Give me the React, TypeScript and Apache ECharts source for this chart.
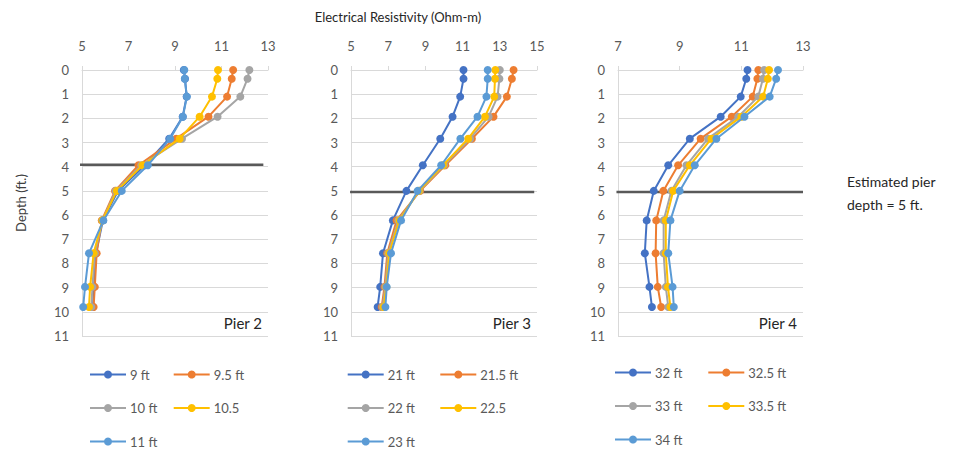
import React, { useEffect, useRef } from "react";
import * as echarts from "echarts";

const depths = [0, 0.36, 1.1, 1.93, 2.84, 3.94, 5.0, 6.22, 7.58, 8.97, 9.8];

const pier2Names = ["9 ft", "9.5 ft", "10 ft", "10.5", "11 ft"];
const pier2_9 = [9.38, 9.43, 9.5, 9.33, 8.75, 7.7, 6.55, 5.9, 5.6, 5.52, 5.47];
const pier2_95 = [11.5, 11.44, 11.24, 10.44, 9.05, 7.43, 6.42, 5.85, 5.63, 5.55, 5.5];
const pier2_10 = [12.2, 12.12, 11.81, 10.83, 9.3, 7.55, 6.45, 5.88, 5.55, 5.45, 5.4];
const pier2_105 = [10.85, 10.82, 10.59, 10.06, 9.2, 7.6, 6.5, 5.88, 5.5, 5.35, 5.3];
const pier2_11 = [9.4, 9.42, 9.51, 9.34, 8.79, 7.83, 6.71, 5.92, 5.3, 5.13, 5.05];

const pier3Names = ["21 ft", "21.5 ft", "22 ft", "22.5", "23 ft"];
const pier3_21 = [11.05, 11.05, 10.87, 10.46, 9.8, 8.86, 7.98, 7.25, 6.72, 6.57, 6.43];
const pier3_215 = [13.74, 13.65, 13.38, 12.66, 11.5, 10.07, 8.72, 7.45, 6.95, 6.8, 6.65];
const pier3_22 = [13.0, 12.98, 12.88, 12.4, 11.4, 10.0, 8.68, 7.55, 7.0, 6.85, 6.7];
const pier3_225 = [12.76, 12.74, 12.7, 12.2, 11.3, 9.95, 8.65, 7.6, 7.05, 6.9, 6.75];
const pier3_23 = [12.35, 12.35, 12.28, 11.8, 10.88, 9.85, 8.58, 7.69, 7.15, 6.92, 6.85];

const pier4Names = ["32 ft", "32.5 ft", "33 ft", "33.5 ft", "34 ft"];
const pier4_32 = [11.2, 11.16, 10.98, 10.33, 9.33, 8.63, 8.16, 7.93, 7.87, 8.02, 8.1];
const pier4_325 = [11.55, 11.52, 11.37, 10.69, 9.68, 8.95, 8.47, 8.24, 8.22, 8.29, 8.4];
const pier4_33 = [11.74, 11.7, 11.55, 10.9, 9.92, 9.22, 8.73, 8.48, 8.48, 8.55, 8.63];
const pier4_335 = [11.9, 11.86, 11.71, 11.0, 10.03, 9.33, 8.79, 8.55, 8.55, 8.62, 8.7];
const pier4_34 = [12.19, 12.13, 11.92, 11.1, 10.19, 9.49, 9.0, 8.7, 8.63, 8.77, 8.81];

const pier2Ticks = [5, 7, 9, 11, 13];
const pier3Ticks = [5, 7, 9, 11, 13, 15];
const pier4Ticks = [7, 9, 11, 13];
const depthTicks = [0, 1, 2, 3, 4, 5, 6, 7, 8, 9, 10, 11];

// estimated pier depth lines: [xStart, xEnd, depth]
const pier2Line = [4.87, 12.8, 3.92];
const pier3Line = [4.95, 14.85, 5.05];
const pier4Line = [6.95, 13.0, 5.05];

const colors = ["#4472C4", "#ED7D31", "#A5A5A5", "#FFC000", "#5B9BD5"];

const FONT = "Lato";

export default function App() {
  const ref = useRef<HTMLDivElement>(null);
  useEffect(() => {
    if (!ref.current) return;
    const chart = echarts.init(ref.current, null, { renderer: "svg" });

    const panels = [
      { names: pier2Names, data: [pier2_9, pier2_95, pier2_10, pier2_105, pier2_11], ticks: pier2Ticks, line: pier2Line, grid: { left: 82, top: 70, width: 186, height: 266 }, legendX: [89, 172.7], legendY: 368, label: "Pier 2" },
      { names: pier3Names, data: [pier3_21, pier3_215, pier3_22, pier3_225, pier3_23], ticks: pier3Ticks, line: pier3Line, grid: { left: 351, top: 70, width: 186, height: 266 }, legendX: [346.7, 439.3], legendY: 368, label: "Pier 3" },
      { names: pier4Names, data: [pier4_32, pier4_325, pier4_33, pier4_335, pier4_34], ticks: pier4Ticks, line: pier4Line, grid: { left: 618, top: 70, width: 185, height: 266 }, legendX: [614, 707.3], legendY: 366, label: "Pier 4" },
    ];

    const axisColor = "#D9D9D9";
    const labelColor = "#595959";

    const grid: any[] = [];
    const xAxis: any[] = [];
    const yAxis: any[] = [];
    const series: any[] = [];
    const legend: any[] = [];
    const graphic: any[] = [];

    panels.forEach((p, i) => {
      grid.push({ ...p.grid });
      xAxis.push({
        type: "value",
        gridIndex: i,
        position: "top",
        min: p.ticks[0],
        max: p.ticks[p.ticks.length - 1],
        axisLine: { show: true, onZero: false, lineStyle: { color: axisColor, width: 1 } },
        axisTick: { show: true, customValues: p.ticks, length: 4, lineStyle: { color: axisColor } },
        axisLabel: { customValues: p.ticks, color: labelColor, fontSize: 13, fontFamily: FONT, margin: 18 },
        splitLine: { show: false },
      });
      yAxis.push({
        type: "value",
        gridIndex: i,
        inverse: true,
        min: 0,
        max: 11,
        interval: 1,
        axisLine: { show: true, lineStyle: { color: axisColor, width: 1 } },
        axisTick: { show: false },
        axisLabel: { customValues: depthTicks, color: labelColor, fontSize: 13, fontFamily: FONT, margin: 13 },
        splitLine: { show: true, lineStyle: { color: axisColor, width: 1 } },
        name: i === 0 ? "Depth (ft.)" : "",
        nameLocation: "middle",
        nameGap: 55,
        nameTextStyle: { color: "#404040", fontSize: 13, fontFamily: FONT },
      });
      series.push({
        type: "line",
        name: "pier-line-" + i,
        xAxisIndex: i,
        yAxisIndex: i,
        data: [[p.line[0], p.line[2]], [p.line[1], p.line[2]]],
        symbol: "none",
        clip: false,
        silent: true,
        lineStyle: { color: "#595959", width: 2.5 },
        z: 1,
      });
      p.data.forEach((vals, k) => {
        series.push({
          type: "line",
          name: p.names[k],
          xAxisIndex: i,
          yAxisIndex: i,
          data: vals.map((v, j) => [v, depths[j]]),
          symbol: "circle",
          symbolSize: 8,
          showSymbol: true,
          color: colors[k],
          lineStyle: { color: colors[k], width: 2 },
          itemStyle: { color: colors[k] },
          z: 2 + k,
        });
      });
      [[0, 2, 4], [1, 3]].forEach((idxs, c) => {
        legend.push({
          orient: "vertical",
          left: p.legendX[c],
          top: p.legendY,
          height: 80,
          itemWidth: 36,
          itemHeight: 10,
          itemGap: 20.5,
          padding: 0,
          data: idxs.map((id) => p.names[id]),
          textStyle: { color: labelColor, fontSize: 13, fontFamily: FONT, padding: [0, 0, 0, -1] },
          selectedMode: false,
        });
      });
      graphic.push({
        type: "text",
        x: p.grid.left + p.grid.width - 6,
        y: 323,
        style: { text: p.label, fill: "#262626", fontSize: 15, fontFamily: FONT, textAlign: "right", textVerticalAlign: "middle" },
      });
    });

    graphic.push({
      type: "text",
      x: 398,
      y: 17,
      style: { text: "Electrical Resistivity (Ohm-m)", fill: "#262626", fontSize: 13, fontFamily: FONT, textAlign: "center", textVerticalAlign: "middle" },
    });
    graphic.push({
      type: "text",
      x: 847,
      y: 193,
      style: { text: "Estimated pier\ndepth = 5 ft.", fill: "#262626", fontSize: 14, fontFamily: FONT, textAlign: "left", textVerticalAlign: "middle", lineHeight: 23 },
    });

    chart.setOption({
      animation: false,
      backgroundColor: "#ffffff",
      grid,
      xAxis,
      yAxis,
      series,
      legend,
      graphic,
    });
    return () => chart.dispose();
  }, []);
  return <div ref={ref} style={{ position: "fixed", left: 0, top: 0, width: 965, height: 450 }} />;
}
